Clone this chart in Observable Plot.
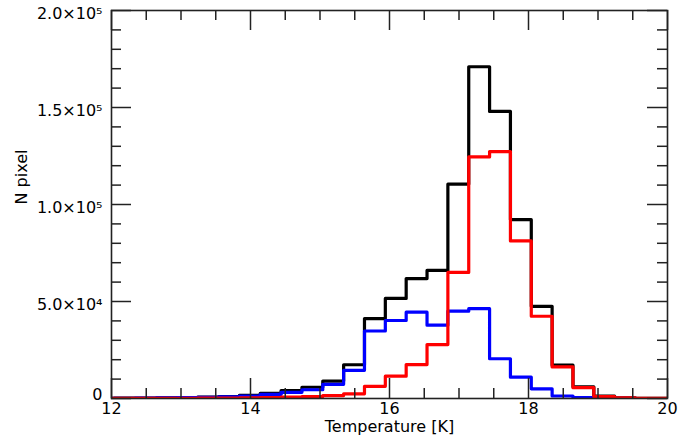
<!DOCTYPE html>
<html><head><meta charset="utf-8">
<script src="https://cdn.jsdelivr.net/npm/d3@7"></script>
<script src="https://cdn.jsdelivr.net/npm/@observablehq/plot@0.6"></script>
<style>body{margin:0;background:#fff;} #chart svg{display:block;} #chart svg text{font-size:16px;font-family:"DejaVu Sans";fill:#000;}</style>
</head><body><div id="chart"></div>
<script>
// Bin edges (K) of the histograms
const binEdges = [11.74, 12.04, 12.34, 12.64, 12.94, 13.24, 13.54, 13.84, 14.14, 14.44, 14.74, 15.04, 15.34, 15.64, 15.94, 16.24, 16.54, 16.84, 17.14, 17.44, 17.74, 18.04, 18.34, 18.64, 18.94, 19.24, 19.54, 19.84, 20.14];
// Counts per bin
const totalCounts = [100, 150, 250, 350, 500, 700, 1000, 1600, 2600, 4100, 5800, 9000, 17400, 41200, 51600, 61800, 66000, 110500, 171000, 148000, 92200, 47500, 17200, 6000, 1200, 300, 80, 30];
const blueCounts  = [80, 100, 200, 300, 400, 600, 900, 1300, 2100, 3200, 4500, 7300, 14500, 34800, 40200, 44500, 37800, 45000, 46300, 20500, 11000, 5000, 1300, 400, 100, 30, 10, 5];
const redCounts   = [20, 30, 50, 60, 100, 150, 200, 300, 500, 700, 1000, 1500, 2400, 6300, 11500, 17500, 27800, 65000, 124500, 127300, 81200, 42400, 16300, 5600, 1000, 300, 80, 30];

const xMajorTicks = [12, 14, 16, 18, 20];
const xMinorTicks = [12.5, 13, 13.5, 14.5, 15, 15.5, 16.5, 17, 17.5, 18.5, 19, 19.5];
const yMajorTicks = [0, 50000, 100000, 150000, 200000];
const yMinorTicks = [10000, 20000, 30000, 40000, 60000, 70000, 80000, 90000, 110000, 120000, 130000, 140000, 160000, 170000, 180000, 190000];
const xTitle = "Temperature [K]";
const yTitle = "N pixel";

const W = 697, H = 438, ML = 111, MR = 30, MT = 10, MB = 40;
const PW = W - ML - MR, PH = H - MT - MB;

function steps(values) {
  const pts = values.map((v, i) => ({x: binEdges[i], y: v}));
  pts.push({x: binEdges[values.length], y: values[values.length - 1]});
  return pts;
}
const sup = {"0":"⁰","1":"¹","2":"²","3":"³","4":"⁴","5":"⁵","6":"⁶","7":"⁷","8":"⁸","9":"⁹"};
function sci(d) {
  if (d === 0) return "0";
  const e = Math.floor(Math.log10(d));
  return (d / Math.pow(10, e)).toFixed(1) + "×10" + String(e).split("").map(c => sup[c]).join("");
}
const tickStyle = {stroke: "#222", strokeWidth: 1.5};

const chart = Plot.plot({
  width: W, height: H,
  marginLeft: ML, marginRight: MR, marginTop: MT, marginBottom: MB,
  x: {domain: [12, 20]},
  y: {domain: [0, 200000]},
  style: {fontFamily: "DejaVu Sans", fontSize: "16px", color: "#000", background: "#fff"},
  marks: [
    Plot.line(steps(totalCounts), {x: "x", y: "y", curve: "step-after", stroke: "#000", strokeWidth: 3.2, clip: true}),
    Plot.line(steps(blueCounts), {x: "x", y: "y", curve: "step-after", stroke: "#0000ff", strokeWidth: 3.2, clip: true}),
    Plot.line(steps(redCounts), {x: "x", y: "y", curve: "step-after", stroke: "#ff0000", strokeWidth: 3.2, clip: true}),
    // inward ticks
    Plot.tickX(xMajorTicks, {x: d => d, insetTop: PH - 20, ...tickStyle}),
    Plot.tickX(xMajorTicks, {x: d => d, insetBottom: PH - 20, ...tickStyle}),
    Plot.tickX(xMinorTicks, {x: d => d, insetTop: PH - 10, ...tickStyle}),
    Plot.tickX(xMinorTicks, {x: d => d, insetBottom: PH - 10, ...tickStyle}),
    Plot.tickY(yMajorTicks, {y: d => d, insetRight: PW - 20, ...tickStyle}),
    Plot.tickY(yMajorTicks, {y: d => d, insetLeft: PW - 20, ...tickStyle}),
    Plot.tickY(yMinorTicks, {y: d => d, insetRight: PW - 10, ...tickStyle}),
    Plot.tickY(yMinorTicks, {y: d => d, insetLeft: PW - 10, ...tickStyle}),
    Plot.frame({stroke: "#222", strokeWidth: 1.6}),
    Plot.axisX(xMajorTicks, {tickSize: 0, tickPadding: 4, tickFormat: d => String(d), label: null}),
    Plot.axisY(yMajorTicks.filter(d => d > 0), {tickSize: 0, tickPadding: 9, dy: 3, tickFormat: sci, label: null}),
    Plot.axisY([0], {tickSize: 0, tickPadding: 9, dy: -4, tickFormat: sci, label: null}),
    Plot.text([xTitle], {text: d => d, frameAnchor: "bottom", lineAnchor: "middle", dy: 28, fill: "#000"}),
    Plot.text([yTitle], {text: d => d, frameAnchor: "left", lineAnchor: "middle", rotate: -90, dx: -90, fill: "#000"})
  ]
});
document.getElementById("chart").appendChild(chart);
</script>
</body></html>
